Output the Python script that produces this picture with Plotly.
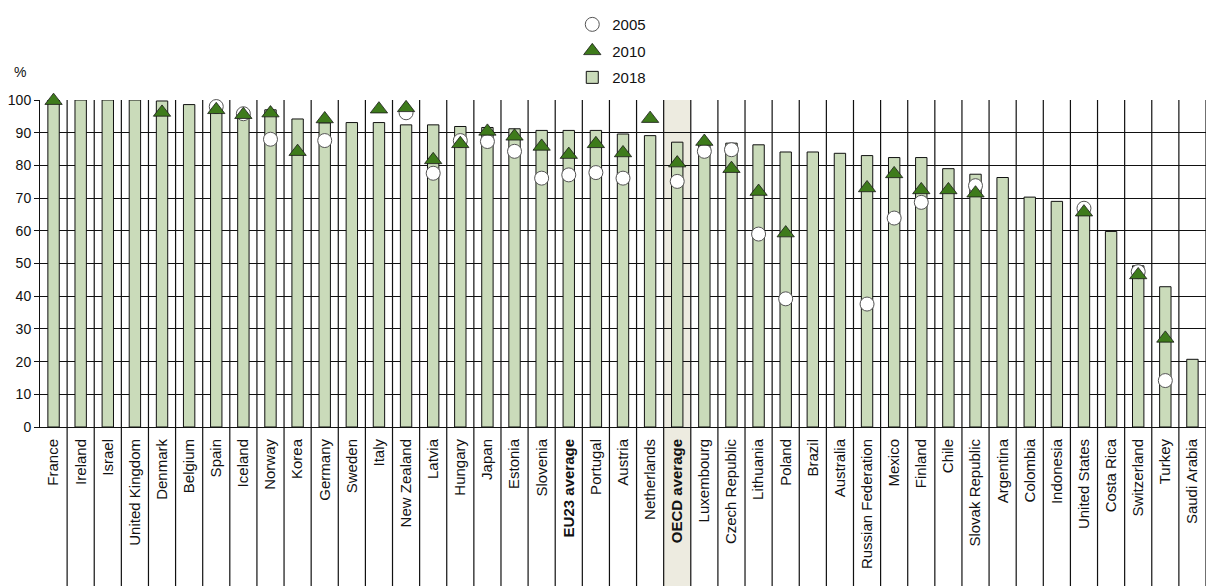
import plotly.graph_objects as go

categories = ["France", "Ireland", "Israel", "United Kingdom", "Denmark", "Belgium", "Spain",
              "Iceland", "Norway", "Korea", "Germany", "Sweden", "Italy", "New Zealand", "Latvia",
              "Hungary", "Japan", "Estonia", "Slovenia", "EU23 average", "Portugal", "Austria",
              "Netherlands", "OECD average", "Luxembourg", "Czech Republic", "Lithuania", "Poland",
              "Brazil", "Australia", "Russian Federation", "Mexico", "Finland", "Chile",
              "Slovak Republic", "Argentina", "Colombia", "Indonesia", "United States",
              "Costa Rica", "Switzerland", "Turkey", "Saudi Arabia"]

v2018 = [100, 100, 100, 100, 99.7, 98.6, 97.5, 96.5, 97, 94.2, 93, 93.1, 93.1, 92.4, 92.4,
         91.9, 91.6, 91.2, 90.7, 90.7, 90.7, 89.6, 89.1, 87.1, 87.1, 86.8, 86.3, 84.1,
         84.1, 83.7, 83.0, 82.4, 82.4, 79.0, 77.3, 76.3, 70.3, 69.0, 66.4, 59.8, 49.3, 42.9, 20.7]

v2010 = [99.8, None, None, None, 96.2, None, 97.0, 95.5, 96.0, 84.2, 94.2, None, 97.2, 97.6, 81.7,
         86.6, 90.4, 88.9, 85.8, 83.3, 86.6, 83.8, 94.3, 80.7, 87.3, 79.0, 72.0, 59.3,
         None, None, 73.1, 77.4, 72.5, 72.5, 71.5, None, None, None, 65.7, None, 46.5, 27.1, None]

v2005 = [100.3, None, None, None, None, None, 98.0, 95.8, 88.0, None, 87.6, None, 100.5, 96.1, 77.6,
         87.6, 87.3, 84.3, 76.1, 77.1, 77.8, 76.1, None, 75.1, 84.3, 84.8, 59.0, 39.2,
         None, None, 37.6, 63.9, 68.7, None, 73.8, None, None, None, 66.9, None, 47.5, 14.2, None]

highlight = "OECD average"
bold_labels = ["EU23 average", "OECD average"]

ticktext = [f"<b>{c}</b>" if c in bold_labels else c for c in categories]
FONT = "Liberation Sans, Arial, sans-serif"

fig = go.Figure()
fig.add_bar(x=categories, y=v2018, name="2018", width=0.42,
            marker=dict(color="#CADBBA", line=dict(color="#111111", width=1)),
            legendgroup="c", legendrank=3)
fig.add_scatter(x=categories, y=v2005, name="2005", mode="markers", cliponaxis=False,
                marker=dict(symbol="circle", size=14, color="white",
                            line=dict(color="#555555", width=1)),
                legendgroup="a", legendrank=1)
fig.add_scatter(x=categories, y=v2010, name="2010", mode="markers", cliponaxis=False,
                marker=dict(symbol="triangle-up", size=15, color="#3E7B1B",
                            line=dict(color="#1a1a1a", width=0.8)),
                legendgroup="b", legendrank=2)

shapes = []
hi = categories.index(highlight)
shapes.append(dict(type="rect", xref="x", yref="paper", x0=hi - 0.5, x1=hi + 0.5,
                   y0=-0.49, y1=1, fillcolor="#EDEBE0", line=dict(width=0), layer="below"))
for i in range(len(categories)):
    shapes.append(dict(type="line", xref="x", yref="paper", x0=i + 0.5, x1=i + 0.5,
                       y0=-0.49, y1=1, line=dict(color="#111111", width=1.2), layer="below"))

fig.update_layout(
    width=1209, height=586,
    margin=dict(l=40, r=3, t=100, b=159, autoexpand=False),
    paper_bgcolor="white", plot_bgcolor="white",
    font=dict(family=FONT, size=13, color="#111111"),
    shapes=shapes,
    bargap=0.5,
    showlegend=True,
    legend=dict(x=0.4565, y=1.281, xanchor="left", yanchor="top", orientation="v",
                traceorder="grouped", tracegroupgap=4, font=dict(size=15, family=FONT),
                bgcolor="rgba(0,0,0,0)", itemwidth=30),
    annotations=[dict(text="%", xref="paper", yref="paper", x=-0.017, y=1.085,
                      xanchor="center", yanchor="middle", showarrow=False,
                      font=dict(size=14, family=FONT, color="#111111"))],
)
fig.update_xaxes(type="category", tickmode="array", tickvals=categories, ticktext=ticktext,
                 tickangle=-90, tickfont=dict(size=15, family=FONT, color="#111111"),
                 ticklabelstandoff=5,
                 showgrid=False, showline=True, linecolor="#111111", linewidth=1,
                 ticks="", range=[-0.5, len(categories) - 0.5], automargin=False)
fig.update_yaxes(range=[0, 100], tickmode="array", tickvals=list(range(0, 101, 10)),
                 showgrid=True, gridcolor="#111111", gridwidth=1,
                 showline=True, linecolor="#111111", linewidth=1,
                 ticks="outside", ticklen=5, tickcolor="#111111",
                 tickfont=dict(size=14, family=FONT, color="#111111"),
                 zeroline=False, automargin=False)

fig.write_html("out.html", config={"displayModeBar": False},
               post_script="document.body.style.margin='0';document.body.style.overflow='hidden';")
